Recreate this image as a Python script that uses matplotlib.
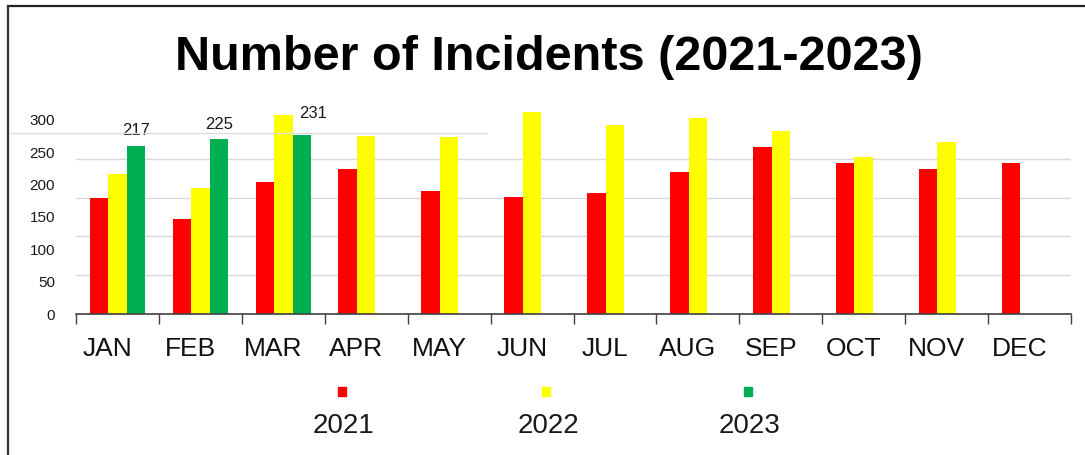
import numpy as np
import matplotlib
matplotlib.use("Agg")
import matplotlib.pyplot as plt
from matplotlib.lines import Line2D
from matplotlib.patches import Rectangle
from matplotlib.transforms import ScaledTranslation

plt.rcParams['font.family'] = ['Liberation Sans', 'DejaVu Sans']

months = ["JAN", "FEB", "MAR", "APR", "MAY", "JUN",
          "JUL", "AUG", "SEP", "OCT", "NOV", "DEC"]
inc_2021 = [150, 122, 170, 187, 158, 151, 156, 183, 215, 194, 187, 194]
inc_2022 = [180, 163, 256, 230, 228, 260, 243, 253, 236, 202, 221, np.nan]
inc_2023 = [217, 225, 231]
years = ["2021", "2022", "2023"]
colors = ["#ff0000", "#ffff00", "#00b050"]
ytick_labels = ["0", "50", "100", "150", "200", "250", "300"]

W, H = 1085, 455
fig = plt.figure(figsize=(W / 100, H / 100), dpi=100)
fig.patch.set_facecolor("white")

# axes placed in pixel terms of the reference
ax = fig.add_axes([76 / W, (H - 314) / H, 995 / W, 217.3 / H])
ax.set_xlim(-0.5, 11.5)
ax.set_ylim(0, 280)

x = np.arange(len(months))
bw = 0.223
ax.bar(x - bw, inc_2021, bw, color=colors[0], zorder=3)
ax.bar(x, inc_2022, bw, color=colors[1], zorder=3)
x23 = x[:len(inc_2023)]
bars23 = ax.bar(x23 + bw, inc_2023, bw, color=colors[2], zorder=3)

# data labels on 2023 bars
label_offsets = [(0, 5.5), (0, 5.5), (8, 10)]
for rect, val, off in zip(bars23, inc_2023, label_offsets):
    ax.annotate(str(val), (rect.get_x() + rect.get_width() / 2, rect.get_height()),
                xytext=off, textcoords="offset points", ha="center", va="bottom",
                fontsize=12, color="#1a1a1a")

# gridlines every 50 (minor), labels spread as in the reference (major)
ax.set_yticks(np.arange(50, 251, 50), minor=True)
ax.yaxis.grid(True, which="minor", color="#d9d9d9", lw=1, zorder=0)
ax.set_yticks(np.linspace(0, 250, 7))
ax.set_yticklabels(ytick_labels)
ax.tick_params(axis="y", which="both", length=0, pad=15, labelsize=11,
               labelcolor="#1a1a1a")

# month labels at centres, tick marks at boundaries
ax.set_xticks(x)
ax.set_xticklabels(months)
ax.set_xticks(np.arange(-0.5, 12, 1), minor=True)
ax.tick_params(axis="x", which="major", length=0, pad=16.5, labelsize=19,
               labelcolor="#111111")
ax.tick_params(axis="x", which="minor", length=7, width=1, color="#404040",
               direction="out")
shift = ScaledTranslation(-0.10, 0, fig.dpi_scale_trans)
for lab in ax.get_xticklabels():
    lab.set_transform(lab.get_transform() + shift)

for s in ["left", "right", "top"]:
    ax.spines[s].set_visible(False)
ax.spines["bottom"].set_color("#404040")
ax.spines["bottom"].set_linewidth(1.2)
ax.spines["bottom"].set_zorder(4)

# stray light line across the upper left
fig.add_artist(Line2D([10 / W, 487 / W], [(H - 132.7) / H] * 2,
                      transform=fig.transFigure, color="#dcdcdc", lw=1))

# title
fig.text(549 / W, (H - 70) / H, "Number of Incidents (2021-2023)",
         ha="center", va="baseline", fontsize=35, fontweight="bold")

# legend: small square above each year
leg_x = [342, 546, 748]
for lx, yr, c in zip(leg_x, years, colors):
    fig.add_artist(Rectangle(((lx - 4) / W, (H - 396) / H), 8 / W, 9 / H,
                             transform=fig.transFigure, color=c))
    fig.text((lx + 2) / W, (H - 426) / H, yr, ha="center", va="center",
             fontsize=20, color="#1a1a1a")

# outer frame (top and left only)
fig.add_artist(Line2D([8 / W, 1], [(H - 6) / H] * 2, transform=fig.transFigure,
                      color="#222222", lw=1.6))
fig.add_artist(Line2D([8 / W, 8 / W], [0, (H - 6) / H], transform=fig.transFigure,
                      color="#333333", lw=1.6))

fig.savefig("out.png", dpi=100)
